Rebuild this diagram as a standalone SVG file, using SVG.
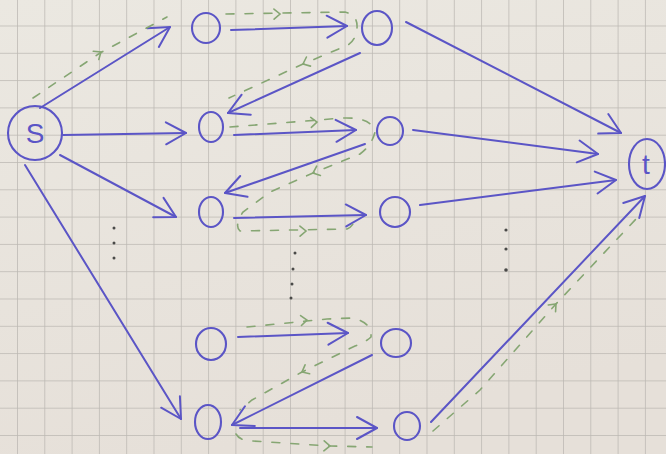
<svg xmlns="http://www.w3.org/2000/svg" width="666" height="454" viewBox="0 0 666 454">
<defs>
<linearGradient id="paper" x1="0" y1="0" x2="0.3" y2="1">
<stop offset="0" stop-color="#ebe8e1"/>
<stop offset="1" stop-color="#e6e0d9"/>
</linearGradient>
<pattern id="grid" patternUnits="userSpaceOnUse" x="17" y="25.5" width="27.3" height="27.3">
<path d="M0,0 H27.3 M0,0 V27.3" stroke="#bcb8b2" stroke-width="1.5" fill="none"/>
</pattern>
<marker id="ah" markerUnits="userSpaceOnUse" viewBox="-24 -14 28 28" markerWidth="28" markerHeight="28" refX="0" refY="0" orient="auto">
<path d="M-20,-11 L0,0 L-20,11" fill="none" stroke="#5b55c6" stroke-width="2" stroke-linecap="round" stroke-linejoin="round"/>
</marker>
<path id="chev" d="M-6,-5 L0,0 L-6,5" fill="none" stroke="#86a673" stroke-width="1.6" stroke-linecap="round"/>
</defs>
<style>
.node{fill:none;stroke:#5b55c6;stroke-width:2.1}
.lbl{font-family:"Liberation Sans",Arial,sans-serif;fill:#5b55c6;text-anchor:middle}
.e{fill:none;stroke:#5b55c6;stroke-width:2;stroke-linecap:round;marker-end:url(#ah)}
.f{fill:none;stroke:#86a673;stroke-width:1.6;stroke-dasharray:8 11;stroke-linecap:round}
.dot{fill:#4a4a48}
</style>
<rect width="666" height="454" fill="url(#paper)"/>
<rect width="666" height="454" fill="url(#grid)"/>

<g id="connectors">
<path class="e" d="M40,108 L170,27"/>
<path class="e" d="M63,135 L186,133"/>
<path class="e" d="M60,155 L176,217"/>
<path class="e" d="M25,165 L181,419"/>
<path class="e" d="M231,30 L347,26"/>
<path class="e" d="M360,53 L228,113"/>
<path class="e" d="M234,135 L356,130"/>
<path class="e" d="M365,144 L225,193"/>
<path class="e" d="M234,218 L366,215"/>
<path class="e" d="M406,22 L621,133"/>
<path class="e" d="M413,130 L598,154"/>
<path class="e" d="M420,205 L616,180"/>
<path class="e" d="M238,337 L348,333"/>
<path class="e" d="M372,355 L232,425"/>
<path class="e" d="M240,428 L377,428"/>
<path class="e" d="M431,422 L645,196"/>
</g>

<g id="flow">
<path class="f" d="M33,98 L100,53 L167,17"/>
<use href="#chev" transform="translate(101,52) rotate(-34)"/>
<path class="f" d="M226,14 L345,12 Q358,15 357,28 Q356,40 348,45 L303,64 L229,98"/>
<use href="#chev" transform="translate(280,14) rotate(-1)"/>
<use href="#chev" transform="translate(303,64) rotate(156)"/>
<path class="f" d="M230,127 L343,118 Q372,117 375,132 Q372,145 360,154 L313,173 L270,192 L243,212 Q234,226 240,231 L347,229 Q352,227 354,222"/>
<use href="#chev" transform="translate(317,122) rotate(-4)"/>
<use href="#chev" transform="translate(313,173) rotate(158)"/>
<use href="#chev" transform="translate(306,231) rotate(-1)"/>
<path class="f" d="M247,327 L327,319 L352,318 Q372,322 371,337 Q366,342 355,346 L302,372 L252,400 L240,410"/>
<use href="#chev" transform="translate(307,320) rotate(-5)"/>
<use href="#chev" transform="translate(302,372) rotate(153)"/>
<path class="f" d="M236,434 Q240,441 252,441 L330,446 L372,447"/>
<use href="#chev" transform="translate(330,446) rotate(2)"/>
<path class="f" d="M433,431 L480,390 L555,305 L636,219"/>
<use href="#chev" transform="translate(556,304) rotate(-47)"/>
</g>

<g id="ellipsis">
<circle class="dot" cx="114" cy="228" r="1.5"/>
<circle class="dot" cx="114" cy="243" r="1.5"/>
<circle class="dot" cx="114" cy="258" r="1.5"/>
<circle class="dot" cx="295" cy="253" r="1.5"/>
<circle class="dot" cx="293" cy="269" r="1.5"/>
<circle class="dot" cx="292" cy="284" r="1.5"/>
<circle class="dot" cx="291" cy="298" r="1.5"/>
<circle class="dot" cx="506" cy="230" r="1.6"/>
<circle class="dot" cx="506" cy="249" r="1.6"/>
<circle class="dot" cx="506" cy="270" r="1.8"/>
</g>

<g id="s"><ellipse class="node" cx="35" cy="133" rx="27" ry="27"/><text class="lbl" x="35" y="143" font-size="28">S</text></g>
<g id="t"><ellipse class="node" cx="647" cy="164" rx="18" ry="25"/><text class="lbl" x="646" y="174" font-size="28">t</text></g>
<g id="a1"><ellipse class="node" cx="206" cy="28" rx="14" ry="15"/></g>
<g id="a2"><ellipse class="node" cx="211" cy="127" rx="12" ry="15"/></g>
<g id="a3"><ellipse class="node" cx="211" cy="212" rx="12" ry="15"/></g>
<g id="a4"><ellipse class="node" cx="211" cy="344" rx="15" ry="16"/></g>
<g id="a5"><ellipse class="node" cx="208" cy="422" rx="13" ry="17"/></g>
<g id="b1"><ellipse class="node" cx="377" cy="28" rx="15" ry="17"/></g>
<g id="b2"><ellipse class="node" cx="390" cy="131" rx="13" ry="14"/></g>
<g id="b3"><ellipse class="node" cx="395" cy="212" rx="15" ry="15"/></g>
<g id="b4"><ellipse class="node" cx="396" cy="343" rx="15" ry="14"/></g>
<g id="b5"><ellipse class="node" cx="407" cy="426" rx="13" ry="14"/></g>
</svg>
